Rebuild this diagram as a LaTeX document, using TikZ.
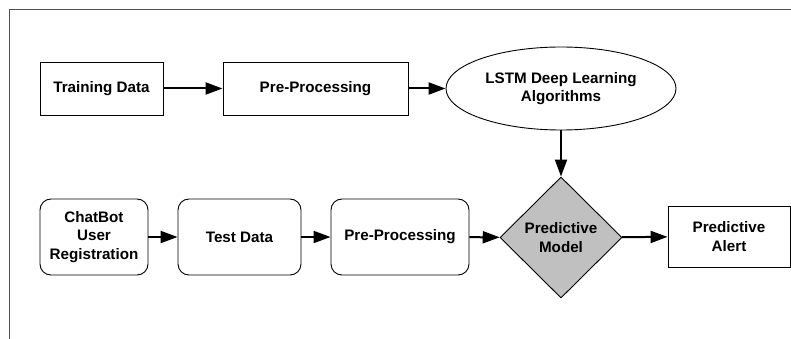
\documentclass[tikz,border=0pt]{standalone}
\usepackage{fontspec}
\setmainfont{Liberation Sans}
\usetikzlibrary{shapes.geometric,arrows.meta}
\definecolor{framegray}{HTML}{505050}
\definecolor{diafill}{HTML}{C0C0C0}
\begin{document}
\begin{tikzpicture}[x=1pt,y=-1pt,
  every node/.style={font=\fontsize{15.2}{18.3}\selectfont\bfseries, align=center, inner sep=0pt},
  sqbox/.style={draw=black, line width=0.9pt, rectangle},
  rbox/.style={draw=black, line width=0.9pt, rectangle, rounded corners=11pt},
  conn/.style={line width=2pt, -{Triangle[length=17pt,width=12pt]}}
]
\useasboundingbox (0,0) rectangle (791,339);
\draw[framegray, line width=1pt] (791,9.5) -- (9.5,9.5) -- (9.5,339);

\node[sqbox, minimum width=123pt, minimum height=53pt] (train) at (101.5,88.5) {Training Data};
\node[sqbox, minimum width=185pt, minimum height=53pt] (pre1) at (315.5,88.5) {Pre-Processing};
\node[draw=black, line width=0.9pt, ellipse, minimum width=230pt, minimum height=83pt] (lstm) at (561,88.5) {LSTM Deep Learning\\Algorithms};

\node[rbox, minimum width=108pt, minimum height=76pt] (chat) at (94,237) {ChatBot\\User\\Registration};
\node[rbox, minimum width=123pt, minimum height=76pt] (test) at (239.5,237) {Test Data};
\node[rbox, minimum width=138pt, minimum height=76pt] (pre2) at (400,237) {Pre-Processing};
\node[draw=black, line width=0.9pt, fill=diafill, diamond, minimum width=122pt, minimum height=121pt] (model) at (561,237.5) {Predictive\\Model};
\node[sqbox, minimum width=122pt, minimum height=61pt] (alert) at (729,236.5) {Predictive\\Alert};

\draw[conn] (train) -- (pre1);
\draw[conn] (pre1) -- (lstm);
\draw[conn] (lstm) -- (model);
\draw[conn] (chat) -- (test);
\draw[conn] (test) -- (pre2);
\draw[conn] (pre2) -- (model);
\draw[conn] (model) -- (alert);
\end{tikzpicture}
\end{document}
